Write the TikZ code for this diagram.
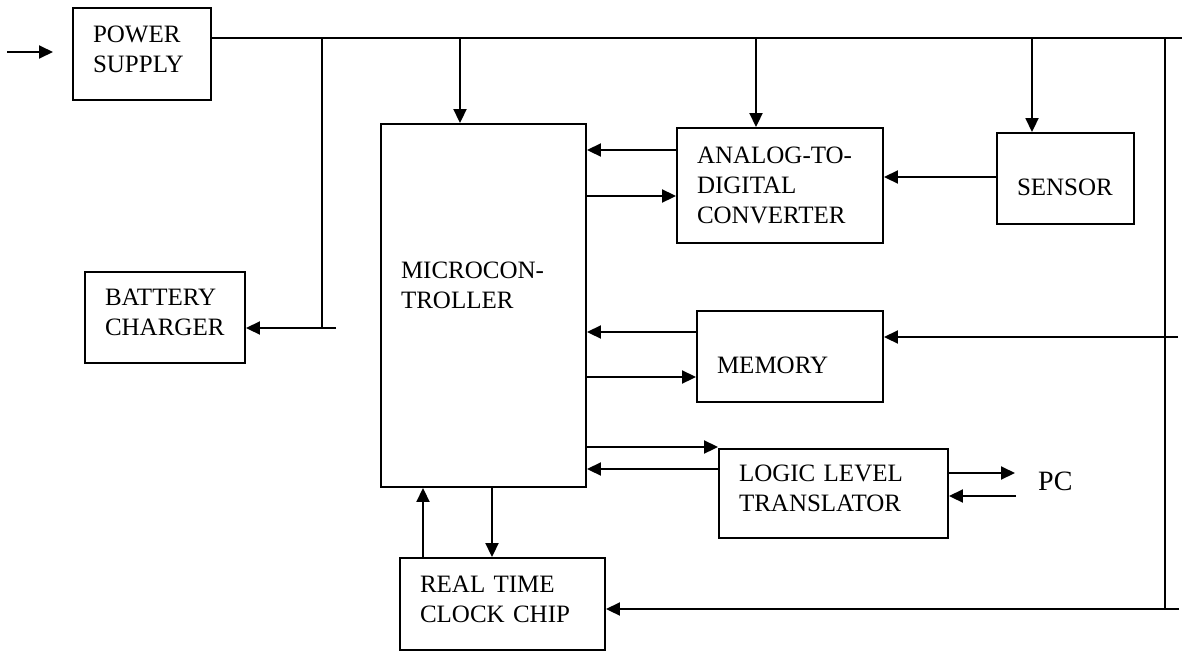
\documentclass[tikz,border=0pt]{standalone}
\usepackage{fontspec}
\setmainfont{Liberation Serif}
\usetikzlibrary{arrows.meta,calc}
\hyphenpenalty=10000
\exhyphenpenalty=10000
\begin{document}
\begin{tikzpicture}[x=1pt,y=-1pt,
  box/.style={draw, line width=1.9pt, rectangle, inner xsep=20pt, inner ysep=0pt, align=left,
    font=\fontsize{25}{30}\selectfont},
  lift/.style={text depth=40pt},
  ln/.style={line width=1.9pt},
  arr/.style={line width=1.9pt, -{Triangle[length=14pt,width=13pt]}}]
\useasboundingbox (0,0) rectangle (1182,651);
% blocks
\node[box, lift, minimum width=138pt, minimum height=92pt, text width=98pt] (ps) at (142,54) {POWER\\SUPPLY};
\node[box, lift, minimum width=160pt, minimum height=91pt, text width=120pt] (bc) at (165,317.5) {BATTERY\\CHARGER};
\node[box, text depth=70pt, minimum width=205pt, minimum height=363pt, text width=165pt] (mc) at (483.5,305.5) {MICROCON-\\TROLLER};
\node[box, minimum width=206pt, minimum height=115pt, text width=166pt] (adc) at (780,185.5) {ANALOG-TO-\\DIGITAL\\CONVERTER};
\node[box, minimum width=137pt, minimum height=91pt, text width=97pt, text height=34pt, text depth=0pt] (sen) at (1065.5,178.5) {SENSOR};
\node[box, minimum width=186pt, minimum height=91pt, text width=146pt, text height=34pt, text depth=0pt] (mem) at (790,356.5) {MEMORY};
\node[box, lift, minimum width=229pt, minimum height=89pt, text width=189pt] (llt) at (833.5,493.5) {LOGIC LEVEL\\TRANSLATOR};
\node[box, lift, minimum width=205pt, minimum height=92pt, text width=165pt] (rtc) at (502.5,604) {REAL TIME\\CLOCK CHIP};
\node[font=\fontsize{28}{30}\selectfont, anchor=base west, inner sep=0pt] (pc) at (1038,490) {PC};
% free ends
\coordinate (in0) at (7,52);
\coordinate (in1) at (53,52);
\coordinate (busE) at (1182,38);
\coordinate (bcT) at (322,38);
\coordinate (bcB) at (322,328);
\coordinate (bcR) at (336,328);
\coordinate (mcT) at (460,38);
\coordinate (adcT) at (756,38);
\coordinate (senT) at (1032,38);
\coordinate (rvT) at (1165,38);
\coordinate (rvB) at (1165,609);
\coordinate (botE) at (1179,609);
\coordinate (memE) at (1178,337);
\coordinate (pcA) at (1015,473);
\coordinate (pcB) at (1016,496);
% power distribution
\draw[arr] (in0) -- (in1);
\draw[ln] (ps.east |- busE) -- (busE);
\draw[ln] (bcT) -- (bcB);
\draw[arr] (bcR) -- (bc.east |- bcR);
\draw[arr] (mcT) -- (mcT |- mc.north);
\draw[arr] (adcT) -- (adcT |- adc.north);
\draw[arr] (senT) -- (senT |- sen.north);
\draw[ln] (rvT) -- (rvB);
\draw[arr] (botE) -- (rtc.east |- botE);
\draw[arr] (memE) -- (mem.east |- memE);
% data links
\draw[arr] (adc.west |- 0,150) -- (mc.east |- 0,150);
\draw[arr] (mc.east |- 0,196) -- (adc.west |- 0,196);
\draw[arr] (sen.west |- 0,177) -- (adc.east |- 0,177);
\draw[arr] (mem.west |- 0,332) -- (mc.east |- 0,332);
\draw[arr] (mc.east |- 0,377) -- (mem.west |- 0,377);
\draw[arr] (mc.east |- 0,447) -- (llt.west |- 0,447);
\draw[arr] (llt.west |- 0,469) -- (mc.east |- 0,469);
\draw[arr] (llt.east |- pcA) -- (pcA);
\draw[arr] (pcB) -- (llt.east |- pcB);
\draw[arr] (rtc.north -| 423,0) -- (mc.south -| 423,0);
\draw[arr] (mc.south -| 492,0) -- (rtc.north -| 492,0);
\end{tikzpicture}
\end{document}
